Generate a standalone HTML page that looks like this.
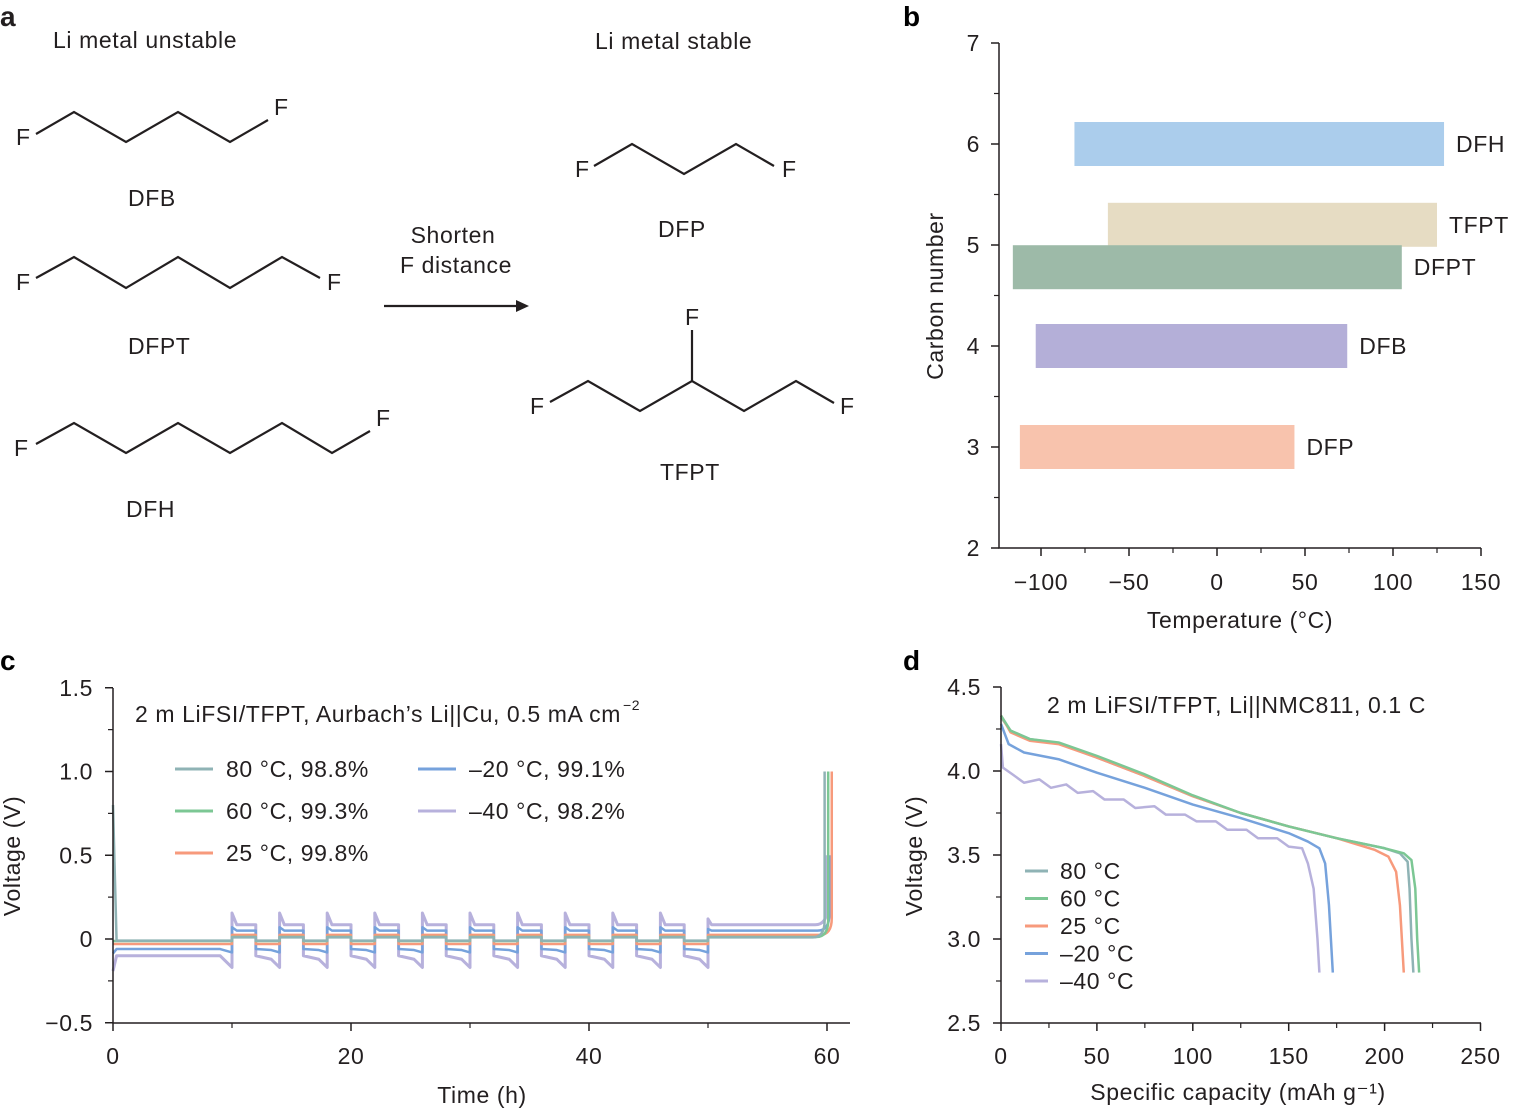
<!DOCTYPE html>
<html><head><meta charset="utf-8">
<style>
html,body{margin:0;padding:0;background:#fff;}
svg{display:block;font-family:"Liberation Sans",Arial,sans-serif;}
text{letter-spacing:0.6px;}
</style></head>
<body>
<svg id="fig" width="1514" height="1109" viewBox="0 0 1514 1109" xmlns="http://www.w3.org/2000/svg">
<g id="pa" font-size="23" fill="#231f20" stroke-linejoin="miter">
  <text x="0" y="26" font-size="28" font-weight="bold">a</text>
  <text x="53" y="48">Li metal unstable</text>
  <text x="595" y="49">Li metal stable</text>
  <g fill="none" stroke="#231f20" stroke-width="2.2">
    <polyline points="36,134 74,112 126,142 178,112 230,142 268,120"/>
    <polyline points="36,278 74,257 126,288 178,257 230,288 282,257 320,278"/>
    <polyline points="36,444 74,423 126,453 178,423 230,453 282,423 332,453 370,431"/>
    <polyline points="594,166 632,144 684,174 736,144 774,166"/>
    <polyline points="550,402 588,381 640,411 692,381 744,411 796,381 834,403"/>
    <line x1="692" y1="381" x2="692" y2="330"/>
    <line x1="384" y1="306" x2="522" y2="306"/>
  </g>
  <polygon points="529,306 516,300 516,312" fill="#231f20"/>
  <g>
    <text x="16" y="145">F</text><text x="274" y="115">F</text>
    <text x="16" y="290">F</text><text x="327" y="290">F</text>
    <text x="14" y="456">F</text><text x="376" y="426">F</text>
    <text x="575" y="177">F</text><text x="782" y="177">F</text>
    <text x="530" y="414">F</text><text x="840" y="414">F</text><text x="685" y="325">F</text>
  </g>
  <text x="128" y="206">DFB</text>
  <text x="128" y="354">DFPT</text>
  <text x="126" y="517">DFH</text>
  <text x="658" y="237">DFP</text>
  <text x="660" y="480">TFPT</text>
  <text x="453" y="243" text-anchor="middle">Shorten</text>
  <text x="456" y="273" text-anchor="middle">F distance</text>
</g>
<g id="pb"></g>
<g id="pc"></g>
<g id="pd"></g>
</svg>
<script>
// ---------- Panel b data ----------
const bNames = ["DFH","TFPT","DFPT","DFB","DFP"];
const bCarbon = [6, 5.2, 4.78, 4, 3];
const bLow = [-81, -62, -116, -103, -112];
const bHigh = [129, 125, 105, 74, 44];
const bXTicks = [-100,-50,0,50,100,150];
const bXTickLabels = ["\u2212100","\u221250","0","50","100","150"];
const bYTicks = [2,3,4,5,6,7];
// ---------- Panel c data ----------
const cSeriesNames = ["80 \u00b0C, 98.8%","60 \u00b0C, 99.3%","25 \u00b0C, 99.8%","\u201320 \u00b0C, 99.1%","\u201340 \u00b0C, 98.2%"];
const cPlate = [-0.01,-0.012,-0.03,-0.06,-0.1];
const cStrip = [0.01,0.012,0.025,0.05,0.085];
const cEnd = [59.8,60.1,60.4,60.2,60.0];
const cPeak = [1.0,1.0,1.0,0.5,0.5];
const cCycleStarts = [10,14,18,22,26,30,34,38,42,46];
const cXTicks = [0,20,40,60];
const cYTicks = [-0.5,0,0.5,1.0,1.5];
const cYTickLabels = ["\u22120.5","0","0.5","1.0","1.5"];
// ---------- Panel d data ----------
const dNames = ["80 \u00b0C","60 \u00b0C","25 \u00b0C","\u201320 \u00b0C","\u201340 \u00b0C"];
const d80 = [[0,4.32],[5,4.24],[15,4.19],[30,4.165],[50,4.08],[75,3.97],[100,3.85],[125,3.75],[150,3.67],[175,3.6],[200,3.54],[208,3.51],[212,3.46],[213,3.3],[214,3.0],[215,2.8]];
const d60 = [[0,4.33],[5,4.24],[15,4.19],[30,4.17],[50,4.09],[75,3.98],[100,3.855],[125,3.75],[150,3.67],[175,3.6],[200,3.54],[210,3.51],[214,3.47],[216,3.3],[217,3.0],[218,2.8]];
const d25 = [[0,4.33],[5,4.23],[15,4.18],[30,4.16],[50,4.08],[75,3.97],[100,3.85],[125,3.75],[150,3.67],[175,3.6],[195,3.53],[202,3.49],[206,3.4],[208,3.2],[209,3.0],[210,2.8]];
const dm20 = [[0,4.28],[4,4.16],[12,4.11],[30,4.07],[50,3.99],[75,3.9],[100,3.8],[125,3.72],[150,3.63],[160,3.58],[166,3.54],[169,3.45],[171,3.2],[172,3.0],[173,2.8]];
const dm40 = [[0,4.16],[1,4.02],[6,3.98],[12,3.93],[20,3.95],[26,3.9],[34,3.92],[40,3.87],[48,3.88],[54,3.83],[64,3.83],[70,3.78],[80,3.79],[86,3.74],[96,3.74],[102,3.7],[112,3.7],[118,3.65],[128,3.65],[134,3.6],[144,3.6],[150,3.55],[157,3.54],[160,3.45],[163,3.3],[165,3.0],[166,2.8]];
const dSeries = [d80,d60,d25,dm20,dm40];
const dXTicks = [0,50,100,150,200,250];
const dYTicks = [2.5,3.0,3.5,4.0,4.5];
const dYTickLabels = ["2.5","3.0","3.5","4.0","4.5"];

const colors = ["#8fb3b5","#7cc794","#f79a7c","#76a2dc","#b7b1dc"];
const FS = 23;
const NS="http://www.w3.org/2000/svg";
function mk(parent,tag,attrs,text){const e=document.createElementNS(NS,tag);for(const k in attrs)e.setAttribute(k,attrs[k]);if(text!==undefined)e.textContent=text;parent.appendChild(e);return e;}

// ---------- Panel b ----------
(function(){
  const g=document.getElementById('pb');
  const X=v=>1217+v*1.76, Y=v=>548-(v-2)*101;
  let t=mk(g,'text',{x:903,y:26,'font-size':28,'font-weight':'bold'},'b');
  
  
  for(let i=0;i<bNames.length;i++){
    const r=mk(g,'rect',{x:X(bLow[i]),y:Y(bCarbon[i])-22,width:X(bHigh[i])-X(bLow[i]),height:44,fill:["#abcdec","#e6dcc3","#9dbaa8","#b4afd8","#f8c3ad"][i]});
    
    
    const l=mk(g,'text',{x:X(bHigh[i])+12,y:Y(bCarbon[i])+8,'font-size':FS,fill:'#231f20'},bNames[i]);
    
    
  }
  const ax=mk(g,'path',{d:`M999,43 V548 H1481`,fill:'none',stroke:'#231f20','stroke-width':1.5});
  
  
  bXTicks.forEach((v,i)=>{
    mk(g,'line',{x1:X(v),x2:X(v),y1:548,y2:556,stroke:'#231f20','stroke-width':1.5});
    if(i<bXTicks.length-1) mk(g,'line',{x1:X(v+25),x2:X(v+25),y1:548,y2:553,stroke:'#231f20','stroke-width':1.2});
    const tx=mk(g,'text',{x:X(v),y:590,'font-size':FS,'text-anchor':'middle',fill:'#231f20'},bXTickLabels[i]);
    
    
  });
  bYTicks.forEach(v=>{
    mk(g,'line',{x1:991,x2:999,y1:Y(v),y2:Y(v),stroke:'#231f20','stroke-width':1.5});
    if(v<7) mk(g,'line',{x1:994,x2:999,y1:Y(v+0.5),y2:Y(v+0.5),stroke:'#231f20','stroke-width':1.2});
    const ty=mk(g,'text',{x:980,y:Y(v)+8,'font-size':FS,'text-anchor':'end',fill:'#231f20'},String(v));
    
    
  });
  const xt=mk(g,'text',{x:1240,y:628,'font-size':FS,'text-anchor':'middle',fill:'#231f20'},'Temperature (\u00b0C)');
  
  
  const yt=mk(g,'text',{x:0,y:0,'font-size':FS,'text-anchor':'middle',fill:'#231f20',transform:'translate(943,296) rotate(-90)'},'Carbon number');
  
  
})();

// ---------- Panel c ----------
(function(){
  const g=document.getElementById('pc');
  const X=v=>113+v*11.9, Y=v=>939-v*167.5;
  let t=mk(g,'text',{x:0,y:670,'font-size':28,'font-weight':'bold'},'c');
  
  
  for(let s=4;s>=0;s--){
    const p=cPlate[s], st=cStrip[s], ov=(s===4?0.07:s===3?0.02:0);
    let d=`M${X(0)},${Y(s===0?0.8:p-ov*1.3)} L${X(0.3)},${Y(p)} L${X(9)},${Y(p)} L${X(10)},${Y(p-ov)}`;
    cCycleStarts.forEach(c=>{
      d+=` L${X(c)},${Y(st+ov)} L${X(c+0.4)},${Y(st)} L${X(c+2)},${Y(st)} L${X(c+2)},${Y(p)} L${X(c+3.3)},${Y(p-ov*0.3)} L${X(c+4)},${Y(p-ov)}`;
    });
    d+=` L${X(50)},${Y(st+ov*0.5)} L${X(50.3)},${Y(st)} L${X(cEnd[s]-1)},${Y(st)} Q${X(cEnd[s])},${Y(st)} ${X(cEnd[s])},${Y(st+0.1)} L${X(cEnd[s])},${Y(cPeak[s])}`;
    const path=mk(g,'path',{d:d,fill:'none',stroke:colors[s],'stroke-width':s===4?3:2.5,'stroke-linejoin':'round'});
    
    
  }
  const ax=mk(g,'path',{d:`M113,688 V1023 H850`,fill:'none',stroke:'#231f20','stroke-width':1.5});
  
  
  cXTicks.forEach((v,i)=>{
    mk(g,'line',{x1:X(v),x2:X(v),y1:1023,y2:1031,stroke:'#231f20','stroke-width':1.5});
    if(i<cXTicks.length-1) mk(g,'line',{x1:X(v+10),x2:X(v+10),y1:1023,y2:1028,stroke:'#231f20','stroke-width':1.2});
    const tx=mk(g,'text',{x:X(v),y:1064,'font-size':FS,'text-anchor':'middle',fill:'#231f20'},String(v));
    
    
  });
  cYTicks.forEach((v,i)=>{
    mk(g,'line',{x1:105,x2:113,y1:Y(v),y2:Y(v),stroke:'#231f20','stroke-width':1.5});
    if(i<cYTicks.length-1) mk(g,'line',{x1:108,x2:113,y1:Y(v+0.25),y2:Y(v+0.25),stroke:'#231f20','stroke-width':1.2});
    const ty=mk(g,'text',{x:93,y:Y(v)+8,'font-size':FS,'text-anchor':'end',fill:'#231f20'},cYTickLabels[i]);
    
    
  });
  const xt=mk(g,'text',{x:482,y:1103,'font-size':FS,'text-anchor':'middle',fill:'#231f20'},'Time (h)');
  
  
  const yt=mk(g,'text',{x:0,y:0,'font-size':FS,'text-anchor':'middle',fill:'#231f20',transform:'translate(20,856) rotate(-90)'},'Voltage (V)');
  
  
  const tt=mk(g,'text',{x:135,y:722,'font-size':FS,fill:'#231f20'},'2 m LiFSI/TFPT, Aurbach\u2019s Li||Cu, 0.5 mA cm');
  
  
  const sup=mk(g,'text',{x:tt.getComputedTextLength()+137,y:710,'font-size':14,fill:'#231f20'},'\u22122');
  
  
  const lx=[175,175,175,418,418], ly=[769,811,853,769,811];
  for(let s=0;s<5;s++){
    const ll=mk(g,'line',{x1:lx[s],x2:lx[s]+38,y1:ly[s],y2:ly[s],stroke:colors[s],'stroke-width':3});
    
    
    const lt=mk(g,'text',{x:lx[s]+51,y:ly[s]+8,'font-size':FS,fill:'#231f20'},cSeriesNames[s]);
    
    
  }
})();

// ---------- Panel d ----------
(function(){
  const g=document.getElementById('pd');
  const X=v=>1001+v*1.918, Y=v=>939-(v-3)*168;
  let t=mk(g,'text',{x:903,y:670,'font-size':28,'font-weight':'bold'},'d');
  
  
  const order=[4,3,0,2,1];
  order.forEach(s=>{
    const pts=dSeries[s].map(p=>X(p[0])+','+Y(p[1])).join(' ');
    const pl=mk(g,'polyline',{points:pts,fill:'none',stroke:colors[s],'stroke-width':2.5,'stroke-linejoin':'round'});
    
    
  });
  const ax=mk(g,'path',{d:`M1001,687 V1023 H1481`,fill:'none',stroke:'#231f20','stroke-width':1.5});
  
  
  dXTicks.forEach((v,i)=>{
    mk(g,'line',{x1:X(v),x2:X(v),y1:1023,y2:1031,stroke:'#231f20','stroke-width':1.5});
    if(i<dXTicks.length-1) mk(g,'line',{x1:X(v+25),x2:X(v+25),y1:1023,y2:1028,stroke:'#231f20','stroke-width':1.2});
    const tx=mk(g,'text',{x:X(v),y:1064,'font-size':FS,'text-anchor':'middle',fill:'#231f20'},String(v));
    
    
  });
  dYTicks.forEach((v,i)=>{
    mk(g,'line',{x1:993,x2:1001,y1:Y(v),y2:Y(v),stroke:'#231f20','stroke-width':1.5});
    if(i<dYTicks.length-1) mk(g,'line',{x1:996,x2:1001,y1:Y(v+0.25),y2:Y(v+0.25),stroke:'#231f20','stroke-width':1.2});
    const ty=mk(g,'text',{x:981,y:Y(v)+8,'font-size':FS,'text-anchor':'end',fill:'#231f20'},dYTickLabels[i]);
    
    
  });
  const xt=mk(g,'text',{x:1238,y:1100,'font-size':FS,'text-anchor':'middle',fill:'#231f20'},'Specific capacity (mAh g\u207b\u00b9)');
  
  
  const yt=mk(g,'text',{x:0,y:0,'font-size':FS,'text-anchor':'middle',fill:'#231f20',transform:'translate(922,856) rotate(-90)'},'Voltage (V)');
  
  
  const tt=mk(g,'text',{x:1047,y:713,'font-size':FS,fill:'#231f20'},'2 m LiFSI/TFPT, Li||NMC811, 0.1 C');
  
  
  for(let s=0;s<5;s++){
    const y=871+s*27.5;
    const ll=mk(g,'line',{x1:1025,x2:1048,y1:y,y2:y,stroke:colors[s],'stroke-width':3});
    
    
    const lt=mk(g,'text',{x:1060,y:y+8,'font-size':FS,fill:'#231f20'},dNames[s]);
    
    
  }
})();
</script>
</body></html>
